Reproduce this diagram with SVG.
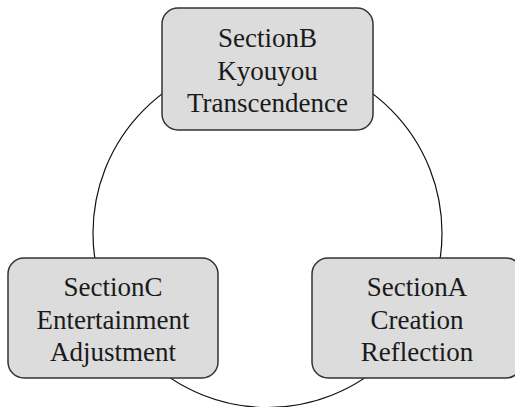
<svg xmlns="http://www.w3.org/2000/svg" width="515" height="407" viewBox="0 0 515 407">
<style>
.node rect{fill:#dcdcdc;stroke:#333;stroke-width:1.5}
.node text{font-family:"Liberation Serif","Times New Roman",serif;font-size:27px;fill:#1a1a1a;text-anchor:middle}
.conn{fill:none;stroke:#111;stroke-width:1.2}
</style>
<rect width="515" height="407" fill="#fff"/>
<g id="connectors">
<circle class="conn" cx="267.5" cy="233" r="174.5"/>
</g>
<g id="nodeB" class="node">
<rect x="162" y="8" width="211" height="122" rx="16"/>
<text x="267.5" y="47">SectionB</text>
<text x="267.5" y="80">Kyouyou</text>
<text x="267.5" y="112">Transcendence</text>
</g>
<g id="nodeC" class="node">
<rect x="8" y="258" width="210" height="120" rx="16"/>
<text x="113" y="296">SectionC</text>
<text x="113" y="329">Entertainment</text>
<text x="113" y="361">Adjustment</text>
</g>
<g id="nodeA" class="node">
<rect x="312" y="258" width="210" height="120" rx="16"/>
<text x="417" y="296">SectionA</text>
<text x="417" y="329">Creation</text>
<text x="417" y="361">Reflection</text>
</g>
</svg>
